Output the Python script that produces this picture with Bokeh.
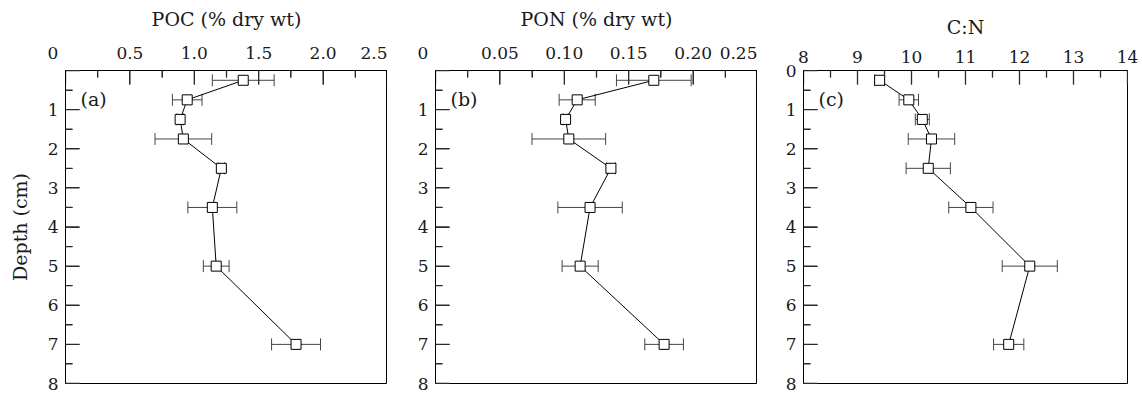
from bokeh.plotting import figure
from bokeh.models import ColumnDataSource, Whisker, TeeHead, FixedTicker, Range1d, Label
from bokeh.layouts import row
from bokeh.embed import file_html
from bokeh.resources import INLINE

depth = [0.25, 0.75, 1.25, 1.75, 2.5, 3.5, 5.0, 7.0]

poc = [1.38, 0.945, 0.89, 0.915, 1.21, 1.14, 1.17, 1.79]
poc_err = [0.24, 0.115, 0.025, 0.22, 0.025, 0.19, 0.10, 0.19]

pon = [0.1695, 0.110, 0.101, 0.1035, 0.1362, 0.120, 0.1123, 0.1775]
pon_err = [0.029, 0.014, 0.002, 0.0286, 0.0035, 0.025, 0.014, 0.015]

cn = [9.41, 9.95, 10.2, 10.37, 10.31, 11.1, 12.19, 11.80]
cn_err = [0.09, 0.18, 0.13, 0.43, 0.41, 0.41, 0.51, 0.28]

poc_ticks = [0, 0.5, 1.0, 1.5, 2.0, 2.5]
poc_minor = [0.25, 0.75, 1.25, 1.75, 2.25]
poc_labels = ["0", "0.5", "1.0", "1.5", "2.0", "2.5"]
pon_ticks = [0, 0.05, 0.10, 0.15, 0.20, 0.25]
pon_minor = [0.025, 0.075, 0.125, 0.175, 0.225]
pon_labels = ["0", "0.05", "0.10", "0.15", "0.20", "0.25"]
cn_ticks = [8, 9, 10, 11, 12, 13, 14]
cn_minor = [8.5, 9.5, 10.5, 11.5, 12.5, 13.5]
cn_labels = ["8", "9", "10", "11", "12", "13", "14"]
depth_ticks = [0, 1, 2, 3, 4, 5, 6, 7, 8]
depth_minor = [0.5, 1.5, 2.5, 3.5, 4.5, 5.5, 6.5, 7.5]

FONT = "DejaVu Serif"
TXT = "#1a1a1a"
BAR = "#444444"
TICK = "#2b2b2b"
FH = 313          # frame height (px)
MAJ, MIN = 14, 7  # inward tick lengths (px)
TW = 1.3          # tick thickness (px)
# shifts the leading "0" of the top axis left, clear of the depth axis
ZERO_PAD = "\u2007\u2007\u2009"


def panel(x, err, xticks, xminor, xlabels, title, tag, left, right, fw,
          hide_zero, ylabel=None):
    xs, xe = xticks[0], xticks[-1]
    p = figure(frame_width=fw, frame_height=FH,
               x_range=Range1d(xs, xe), y_range=Range1d(8, 0),
               x_axis_location="above", output_backend="svg", toolbar_location=None,
               min_border_left=left, min_border_right=right,
               min_border_top=70, min_border_bottom=10)
    p.grid.visible = False
    p.outline_line_color = "black"
    p.outline_line_width = 1

    xa = p.xaxis[0]
    ya = p.yaxis[0]
    xa.ticker = FixedTicker(ticks=xticks, minor_ticks=xminor)
    ov = {t: l for t, l in zip(xticks, xlabels)}
    if hide_zero:
        ov[xs] = xlabels[0] + ZERO_PAD
    xa.major_label_overrides = ov
    ya.ticker = FixedTicker(ticks=depth_ticks, minor_ticks=depth_minor)
    yov = {d: str(d) for d in depth_ticks}
    if hide_zero:
        yov[0] = ""
    ya.major_label_overrides = yov

    for ax in (xa, ya):
        ax.major_tick_in = MAJ
        ax.major_tick_out = 0
        ax.minor_tick_in = MIN
        ax.minor_tick_out = 0
        ax.major_tick_line_color = TICK
        ax.minor_tick_line_color = TICK
        ax.major_tick_line_width = 1
        ax.minor_tick_line_width = 1
        ax.axis_line_color = "black"
        ax.major_label_text_font = FONT
        ax.major_label_text_font_size = "17px"
        ax.major_label_text_color = TXT
        ax.axis_label_text_font = FONT
        ax.axis_label_text_font_size = "19px"
        ax.axis_label_text_font_style = "normal"
        ax.axis_label_text_color = TXT
    xa.major_label_standoff = 8
    ya.major_label_standoff = 7
    xa.axis_label = title
    xa.axis_label_standoff = 10
    if ylabel:
        ya.axis_label = ylabel
        ya.axis_label_standoff = 14

    # inward ticks also drawn as thin filled bars just inside the frame edges
    ppy = FH / 8.0
    ppx = fw / (xe - xs)
    p.rect(x=xticks, y=[MAJ / 2 / ppy] * len(xticks), width=TW, height=MAJ,
           width_units="screen", height_units="screen", fill_color=TICK, line_color=None)
    p.rect(x=xminor, y=[MIN / 2 / ppy] * len(xminor), width=TW, height=MIN,
           width_units="screen", height_units="screen", fill_color=TICK, line_color=None)
    p.rect(x=[xs + MAJ / 2 / ppx] * len(depth_ticks), y=depth_ticks, width=MAJ, height=TW,
           width_units="screen", height_units="screen", fill_color=TICK, line_color=None)
    p.rect(x=[xs + MIN / 2 / ppx] * len(depth_minor), y=depth_minor, width=MIN, height=TW,
           width_units="screen", height_units="screen", fill_color=TICK, line_color=None)

    src = ColumnDataSource(dict(x=x, y=depth,
                                lo=[a - e for a, e in zip(x, err)],
                                hi=[a + e for a, e in zip(x, err)]))
    w = Whisker(source=src, base="y", lower="lo", upper="hi", dimension="width",
                line_color=BAR, line_width=1,
                upper_head=TeeHead(size=12, line_color=BAR, line_width=1),
                lower_head=TeeHead(size=12, line_color=BAR, line_width=1))
    p.add_layout(w)
    p.line("x", "y", source=src, line_color="black", line_width=1)
    p.scatter("x", "y", source=src, marker="square", size=10,
              fill_color="white", line_color="black", line_width=1)

    p.add_layout(Label(x=xs, y=0.74, x_offset=15, text=tag,
                       text_font=FONT, text_font_size="19px", text_color=TXT,
                       text_baseline="middle", text_align="left"))
    return p


pa = panel(poc, poc_err, poc_ticks, poc_minor, poc_labels,
           "POC (% dry wt)", "(a)", 65, 0, 322, True, ylabel="Depth (cm)")
pb = panel(pon, pon_err, pon_ticks, pon_minor, pon_labels,
           "PON (% dry wt)", "(b)", 48, 0, 322, True)
pc = panel(cn, cn_err, cn_ticks, cn_minor, cn_labels,
           "C:N", "(c)", 46, 15, 324, False)

layout = row(pa, pb, pc)
open("out.html", "w").write(file_html(layout, INLINE))
